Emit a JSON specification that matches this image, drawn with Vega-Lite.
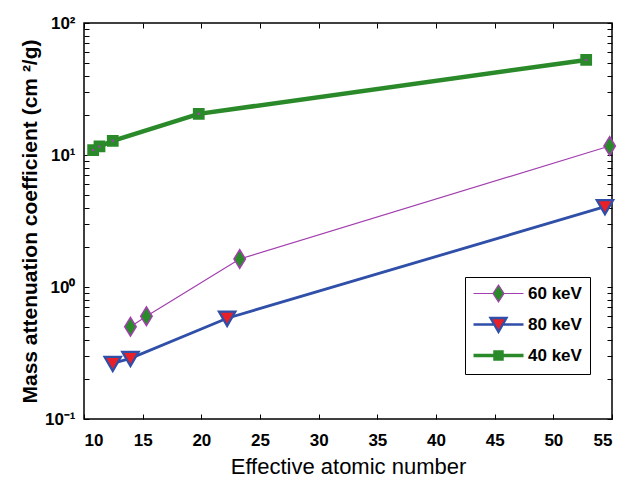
{
  "$schema": "https://vega.github.io/schema/vega-lite/v6.json",
  "width": 528,
  "height": 396,
  "autosize": {"type": "none"},
  "padding": {"left": 84, "top": 23, "right": 21, "bottom": 61},
  "background": "white",
  "data": {
    "values": [
      {"z": 13.96, "mu": 0.50, "series": "60 keV"},
      {"z": 15.32, "mu": 0.60, "series": "60 keV"},
      {"z": 23.27, "mu": 1.63, "series": "60 keV"},
      {"z": 54.8, "mu": 11.7, "series": "60 keV"},
      {"z": 12.45, "mu": 0.264, "series": "80 keV"},
      {"z": 13.96, "mu": 0.288, "series": "80 keV"},
      {"z": 22.2, "mu": 0.58, "series": "80 keV"},
      {"z": 54.4, "mu": 4.06, "series": "80 keV"},
      {"z": 10.78, "mu": 10.9, "series": "40 keV"},
      {"z": 11.32, "mu": 11.6, "series": "40 keV"},
      {"z": 12.45, "mu": 12.8, "series": "40 keV"},
      {"z": 19.78, "mu": 20.5, "series": "40 keV"},
      {"z": 52.8, "mu": 52.5, "series": "40 keV"}
    ]
  },
  "config": {
    "view": {"stroke": "black", "strokeWidth": 1.5},
    "axis": {
      "grid": false,
      "domain": false,
      "tickColor": "black",
      "tickSize": -5,
      "tickWidth": 1,
      "labelFont": "Liberation Sans",
      "labelFontSize": 17,
      "labelFontWeight": "bold",
      "labelColor": "black",
      "titleColor": "black"
    }
  },
  "resolve": {
    "axis": {"x": "independent", "y": "independent"},
    "scale": {"shape": "independent", "fill": "independent", "stroke": "independent", "strokeWidth": "independent"},
    "legend": {"shape": "independent", "fill": "independent", "stroke": "independent", "strokeWidth": "independent"}
  },
  "layer": [
    {
      "mark": {"type": "line"},
      "encoding": {
        "x": {
          "field": "z",
          "type": "quantitative",
          "scale": {"domain": [10, 55], "nice": false, "zero": false},
          "axis": {
            "orient": "bottom",
            "values": [10, 15, 20, 25, 30, 35, 40, 45, 50, 55],
            "labelPadding": 18,
            "title": "Effective atomic number",
            "titleFont": "Liberation Sans",
            "titleFontSize": 22,
            "titleFontWeight": "normal",
            "titlePadding": 8
          }
        },
        "y": {
          "field": "mu",
          "type": "quantitative",
          "scale": {"type": "log", "domain": [0.1, 100], "nice": false},
          "axis": {
            "orient": "left",
            "values": [0.1, 0.2, 0.3, 0.4, 0.5, 0.6, 0.7, 0.8, 0.9, 1, 2, 3, 4, 5, 6, 7, 8, 9, 10, 20, 30, 40, 50, 60, 70, 80, 90, 100],
            "labelExpr": "datum.value == 0.1 ? '10⁻¹' : datum.value == 1 ? '10⁰' : datum.value == 10 ? '10¹' : datum.value == 100 ? '10²' : ''",
            "labelPadding": 14,
            "labelOverlap": false,
            "title": "Mass attenuation coefficient (cm ²/g)",
            "titleFont": "Liberation Sans",
            "titleFontSize": 21,
            "titleFontWeight": "bold",
            "titlePadding": 4
          }
        },
        "stroke": {
          "field": "series",
          "type": "nominal",
          "scale": {"domain": ["60 keV", "80 keV", "40 keV"], "range": ["#A23FAE", "#2F4FA8", "#2A8A2A"]},
          "legend": null
        },
        "strokeWidth": {
          "field": "series",
          "type": "nominal",
          "scale": {"domain": ["60 keV", "80 keV", "40 keV"], "range": [1.2, 4.5, 4]},
          "legend": null
        }
      }
    },
    {
      "mark": {"type": "point", "filled": false, "opacity": 1, "size": 120},
      "encoding": {
        "x": {"field": "z", "type": "quantitative", "axis": null},
        "y": {"field": "mu", "type": "quantitative", "axis": null},
        "shape": {
          "field": "series",
          "type": "nominal",
          "scale": {"domain": ["60 keV", "80 keV", "40 keV"], "range": ["M0,-1.7L1.05,0L0,1.7L-1.05,0Z", "M-1.5,-1.2L1.5,-1.2L0,1.4Z", "M-0.8,-0.8L0.8,-0.8L0.8,0.8L-0.8,0.8Z"]},
          "legend": null
        },
        "fill": {
          "field": "series",
          "type": "nominal",
          "scale": {"domain": ["60 keV", "80 keV", "40 keV"], "range": ["#2A8A2A", "#E82028", "#2A8A2A"]},
          "legend": null
        },
        "stroke": {
          "field": "series",
          "type": "nominal",
          "scale": {"domain": ["60 keV", "80 keV", "40 keV"], "range": ["#A23FAE", "#2F4FA8", "#2A8A2A"]},
          "legend": null
        },
        "strokeWidth": {
          "field": "series",
          "type": "nominal",
          "scale": {"domain": ["60 keV", "80 keV", "40 keV"], "range": [1.5, 3, 1.5]},
          "legend": null
        }
      }
    },
    {
      "transform": [{"filter": "datum.series === '40 keV'"}],
      "mark": {"type": "point", "filled": true, "color": "#A23FAE", "size": 6, "opacity": 1},
      "encoding": {
        "x": {"field": "z", "type": "quantitative", "axis": {"orient": "top", "labels": false, "title": null, "values": [10, 15, 20, 25, 30, 35, 40, 45, 50, 55]}},
        "y": {"field": "mu", "type": "quantitative", "axis": {"orient": "right", "labels": false, "title": null, "values": [0.1, 0.2, 0.3, 0.4, 0.5, 0.6, 0.7, 0.8, 0.9, 1, 2, 3, 4, 5, 6, 7, 8, 9, 10, 20, 30, 40, 50, 60, 70, 80, 90, 100]}}
      }
    },
    {
      "mark": {"type": "point", "filled": true, "opacity": 0, "size": 100},
      "encoding": {
        "x": {"field": "z", "type": "quantitative", "axis": null},
        "y": {"field": "mu", "type": "quantitative", "axis": null},
        "shape": {
          "field": "series",
          "type": "nominal",
          "scale": {"domain": ["60 keV", "80 keV", "40 keV"], "range": ["M-5,0L-1.1,0M1.1,0L5,0M0,-1.7L1.1,0L0,1.7L-1.1,0Z", "M-5,0L-0.86,0M0.86,0L5,0M-1.6,-1.3L1.6,-1.3L0,1.5Z", "M-5,0L-0.7,0M0.7,0L5,0M-0.7,-0.7L0.7,-0.7L0.7,0.7L-0.7,0.7Z"]},
          "legend": {
            "orient": "none",
            "legendX": 381,
            "legendY": 254,
            "title": null,
            "strokeColor": "black",
            "fillColor": "white",
            "padding": 8,
            "rowPadding": 8,
            "symbolSize": 100,
            "symbolOpacity": 1,
            "symbolOffset": 17,
            "labelOffset": 21,
            "labelFont": "Liberation Sans",
            "labelFontSize": 17,
            "labelFontWeight": "bold",
            "labelColor": "black"
          }
        },
        "fill": {
          "field": "series",
          "type": "nominal",
          "scale": {"domain": ["60 keV", "80 keV", "40 keV"], "range": ["#2A8A2A", "#E82028", "#2A8A2A"]},
          "legend": {"orient": "none", "legendX": 381, "legendY": 254, "title": null, "symbolOpacity": 1}
        },
        "stroke": {
          "field": "series",
          "type": "nominal",
          "scale": {"domain": ["60 keV", "80 keV", "40 keV"], "range": ["#A23FAE", "#2F4FA8", "#2A8A2A"]},
          "legend": {"orient": "none", "legendX": 381, "legendY": 254, "title": null, "symbolOpacity": 1}
        },
        "strokeWidth": {
          "field": "series",
          "type": "nominal",
          "scale": {"domain": ["60 keV", "80 keV", "40 keV"], "range": [1.2, 3.5, 3.5]},
          "legend": {"orient": "none", "legendX": 381, "legendY": 254, "title": null, "symbolOpacity": 1}
        }
      }
    }
  ]
}
